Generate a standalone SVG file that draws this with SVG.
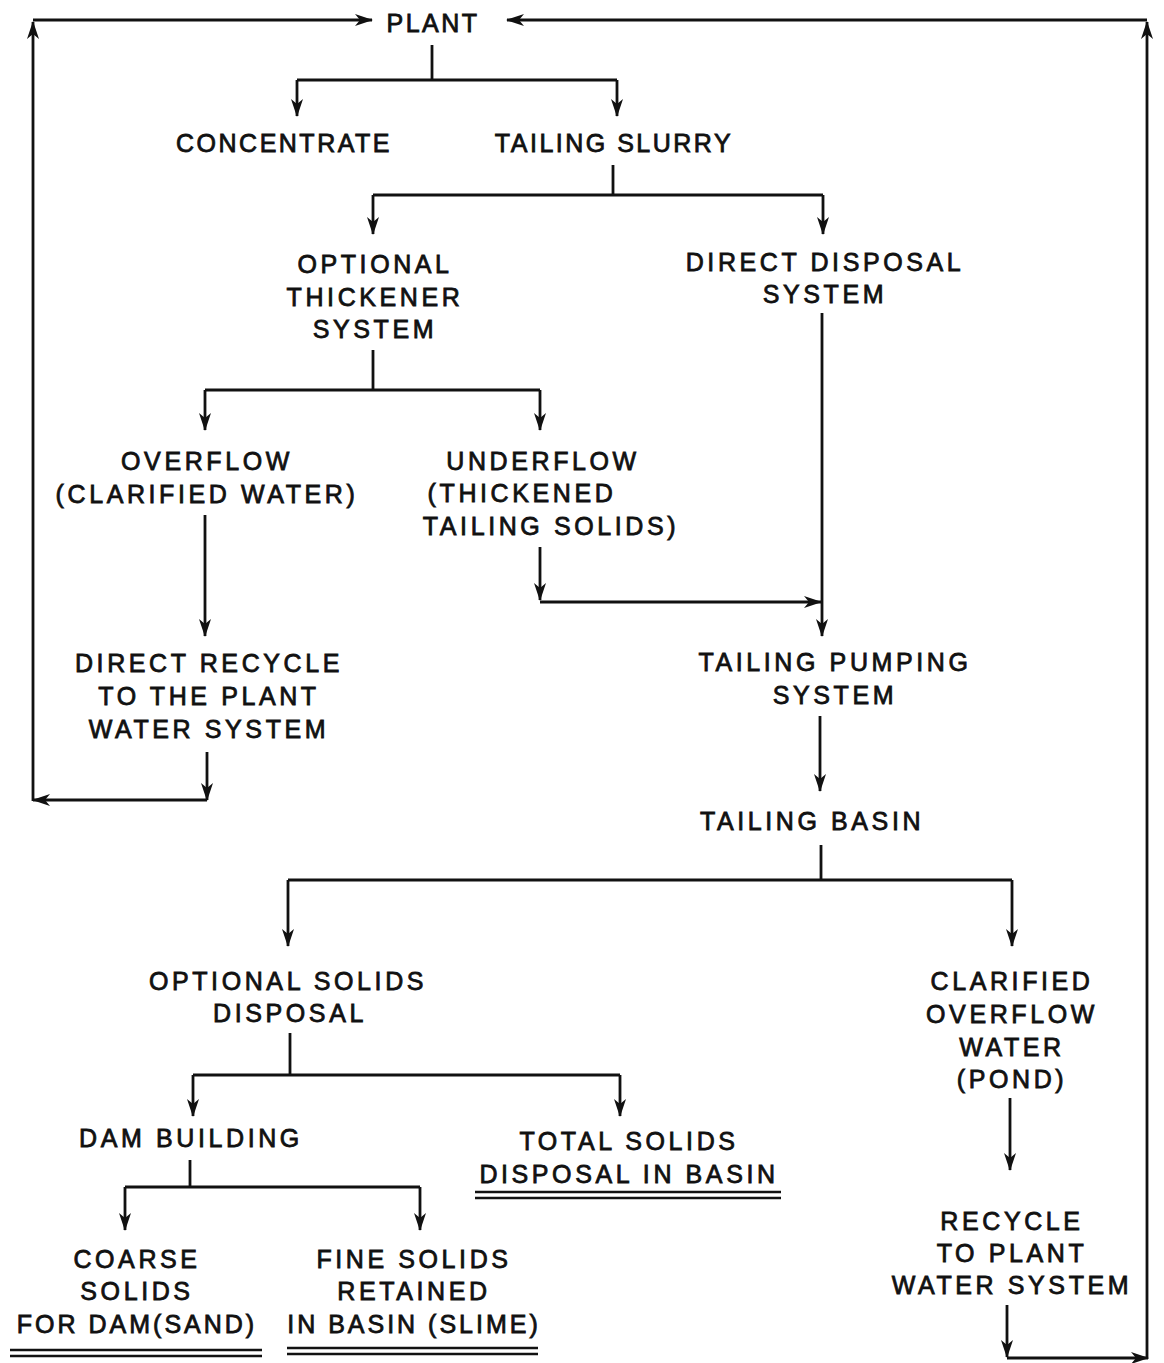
<svg xmlns="http://www.w3.org/2000/svg" width="1164" height="1363" viewBox="0 0 1164 1363">
<style>
text{font-family:"Liberation Sans",Arial,sans-serif;font-size:25px;fill:#111;stroke:#111;stroke-width:0.8;text-anchor:middle;letter-spacing:3.6px}
text.t{letter-spacing:2.5px}
text.n{letter-spacing:3px}
.c path,.c line,.c polyline{fill:none;stroke:#111;stroke-width:2.8}
.u line{stroke:#111;stroke-width:2.4}
</style>
<defs>
<marker id="a" markerUnits="userSpaceOnUse" markerWidth="20" markerHeight="14" refX="17" refY="6" orient="auto">
<path d="M0,0 L18,6 L0,12 L5,6 Z" fill="#111"/>
</marker>
</defs>
<rect width="1164" height="1363" fill="#fff"/>
<g class="c" id="connectors">
<line x1="33" y1="20" x2="372" y2="20" marker-end="url(#a)"/>
<line x1="1147" y1="20" x2="507" y2="20" marker-end="url(#a)"/>
<line x1="33" y1="801" x2="33" y2="22" marker-end="url(#a)"/>
<line x1="1147" y1="1359" x2="1147" y2="22" marker-end="url(#a)"/>
<polyline points="432,45 432,80"/>
<polyline points="297,80 617,80"/>
<line x1="297" y1="80" x2="297" y2="116" marker-end="url(#a)"/>
<line x1="617" y1="80" x2="617" y2="116" marker-end="url(#a)"/>
<polyline points="613,165 613,195"/>
<polyline points="373,195 823,195"/>
<line x1="373" y1="195" x2="373" y2="234" marker-end="url(#a)"/>
<line x1="823" y1="195" x2="823" y2="234" marker-end="url(#a)"/>
<polyline points="373,350 373,390"/>
<polyline points="205,390 540,390"/>
<line x1="205" y1="390" x2="205" y2="430" marker-end="url(#a)"/>
<line x1="540" y1="390" x2="540" y2="430" marker-end="url(#a)"/>
<line x1="540" y1="547" x2="540" y2="600" marker-end="url(#a)"/>
<line x1="540" y1="602" x2="821" y2="602" marker-end="url(#a)"/>
<line x1="822" y1="313" x2="822" y2="636" marker-end="url(#a)"/>
<line x1="205" y1="515" x2="205" y2="636" marker-end="url(#a)"/>
<line x1="207" y1="752" x2="207" y2="800" marker-end="url(#a)"/>
<line x1="207" y1="800" x2="33" y2="800" marker-end="url(#a)"/>
<line x1="820" y1="716" x2="820" y2="791" marker-end="url(#a)"/>
<polyline points="821,845 821,880"/>
<polyline points="288,880 1012,880"/>
<line x1="288" y1="880" x2="288" y2="946" marker-end="url(#a)"/>
<line x1="1012" y1="880" x2="1012" y2="946" marker-end="url(#a)"/>
<line x1="1010" y1="1098" x2="1010" y2="1170" marker-end="url(#a)"/>
<line x1="1007" y1="1305" x2="1007" y2="1357" marker-end="url(#a)"/>
<line x1="1007" y1="1358" x2="1148" y2="1358" marker-end="url(#a)"/>
<polyline points="290,1033 290,1075"/>
<polyline points="193,1075 620,1075"/>
<line x1="193" y1="1075" x2="193" y2="1116" marker-end="url(#a)"/>
<line x1="620" y1="1075" x2="620" y2="1116" marker-end="url(#a)"/>
<polyline points="190,1160 190,1187"/>
<polyline points="125,1187 420,1187"/>
<line x1="125" y1="1187" x2="125" y2="1230" marker-end="url(#a)"/>
<line x1="420" y1="1187" x2="420" y2="1230" marker-end="url(#a)"/>
</g>
<g id="plant"><text class="t" x="433" y="32">PLANT</text></g>
<g id="concentrate"><text class="t" x="284" y="152">CONCENTRATE</text></g>
<g id="tailing-slurry"><text class="t" x="614" y="152">TAILING SLURRY</text></g>
<g id="thickener"><text x="375" y="273">OPTIONAL</text><text x="375" y="306">THICKENER</text><text x="375" y="338">SYSTEM</text></g>
<g id="direct-disposal"><text x="825" y="271">DIRECT  DISPOSAL</text><text x="825" y="303">SYSTEM</text></g>
<g id="overflow"><text x="207" y="470">OVERFLOW</text><text x="207" y="503">(CLARIFIED WATER)</text></g>
<g id="underflow"><text x="543" y="470">UNDERFLOW</text><text x="522" y="502">(THICKENED</text><text x="551" y="535">TAILING  SOLIDS)</text></g>
<g id="direct-recycle"><text x="209" y="672">DIRECT RECYCLE</text><text x="209" y="705">TO THE PLANT</text><text x="209" y="738">WATER SYSTEM</text></g>
<g id="pumping"><text x="835" y="671">TAILING  PUMPING</text><text x="835" y="704">SYSTEM</text></g>
<g id="basin"><text x="812" y="830">TAILING BASIN</text></g>
<g id="solids-disposal"><text x="288" y="990">OPTIONAL  SOLIDS</text><text x="290" y="1022">DISPOSAL</text></g>
<g id="clarified-overflow"><text x="1012" y="990">CLARIFIED</text><text x="1012" y="1023">OVERFLOW</text><text x="1012" y="1056">WATER</text><text x="1012" y="1088">(POND)</text></g>
<g id="recycle"><text x="1012" y="1230">RECYCLE</text><text x="1012" y="1262">TO PLANT</text><text x="1012" y="1294">WATER SYSTEM</text></g>
<g id="dam-building"><text x="191" y="1147">DAM BUILDING</text></g>
<g id="total-solids"><text x="629" y="1150">TOTAL  SOLIDS</text><text x="629" y="1183">DISPOSAL  IN  BASIN</text>
<g class="u"><line x1="475" y1="1192" x2="781" y2="1192"/><line x1="475" y1="1198" x2="781" y2="1198"/></g></g>
<g id="coarse"><text x="137" y="1268">COARSE</text><text x="137" y="1300">SOLIDS</text><text class="n" x="137" y="1333">FOR DAM(SAND)</text>
<g class="u"><line x1="10" y1="1350" x2="262" y2="1350"/><line x1="10" y1="1356" x2="262" y2="1356"/></g></g>
<g id="fine"><text x="414" y="1268">FINE SOLIDS</text><text x="414" y="1300">RETAINED</text><text class="n" x="414" y="1333">IN BASIN (SLIME)</text>
<g class="u"><line x1="287" y1="1348" x2="538" y2="1348"/><line x1="287" y1="1354" x2="538" y2="1354"/></g></g>
</svg>
